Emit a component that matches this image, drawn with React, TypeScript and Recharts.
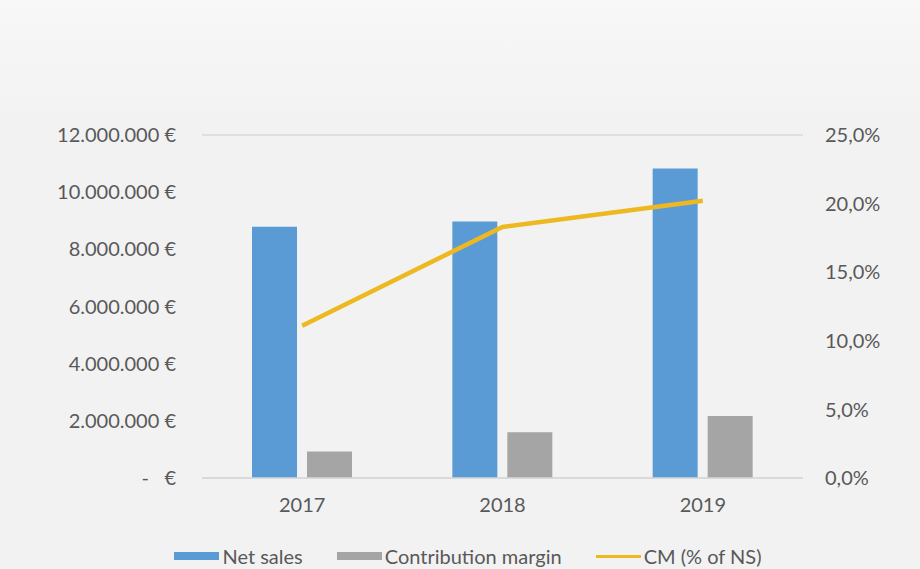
import { ComposedChart, Bar, Line, XAxis, YAxis, CartesianGrid, Legend } from 'recharts';

const years = ['2017', '2018', '2019'];
const netSales = [8790000, 8970000, 10830000];
const contributionMargin = [930000, 1600000, 2170000];
const cmPercent = [0.111, 0.183, 0.202];

const leftTicks = [0, 2000000, 4000000, 6000000, 8000000, 10000000, 12000000];
const rightTicks = [0, 0.05, 0.1, 0.15, 0.2, 0.25];
const seriesNames = ['Net sales', 'Contribution margin', 'CM (% of NS)'];

const data = years.map((year, i) => ({
  year,
  netSales: netSales[i],
  cm: contributionMargin[i],
  cmPct: cmPercent[i],
}));

const BLUE = '#5B9BD5';
const GRAY = '#A5A5A5';
const GOLD = '#EDB820';
const TEXT = '#595959';
const FONT = 'Lato, "Open Sans", sans-serif';

const euro = (v: number) =>
  v === 0 ? '-\u00a0\u00a0\u00a0€' : `${v.toLocaleString('de-DE')} €`;
const pct = (v: number) => `${(v * 100).toFixed(1).replace('.', ',')}%`;

function LegendContent({ payload }: any) {
  const items = [...(payload || [])].sort(
    (a: any, b: any) => seriesNames.indexOf(a.value) - seriesNames.indexOf(b.value)
  );
  return (
    <div
      style={{
        display: 'flex',
        justifyContent: 'center',
        alignItems: 'center',
        height: 24,
        fontFamily: FONT,
        fontSize: 20,
        color: TEXT,
        gap: 34,
        paddingLeft: 16,
      }}
    >
      {items.map((p: any) => (
        <div key={p.value} style={{ display: 'flex', alignItems: 'center', gap: 3 }}>
          <span
            style={{
              display: 'inline-block',
              width: 45,
              height: p.type === 'line' ? 3 : 8,
              background: p.color,
            }}
          />
          <span>{p.value}</span>
        </div>
      ))}
    </div>
  );
}

export default function App() {
  return (
    <div
      style={{
        position: 'absolute',
        left: 0,
        top: 0,
        width: 920,
        height: 569,
        background: 'linear-gradient(#F8F8F8, #F2F2F2 20%, #F2F2F2)',
      }}
    >
      <ComposedChart
        width={920}
        height={569}
        data={data}
        margin={{ top: 135, right: 0, bottom: 1, left: 0 }}
        barGap={10}
        barSize={45}
      >
        <CartesianGrid vertical={false} stroke="#D9D9D9" strokeWidth={1.5} />
        <XAxis
          dataKey="year"
          height={66}
          axisLine={{ stroke: '#D9D9D9', strokeWidth: 1.5 }}
          tickLine={false}
          tickSize={0}
          tickMargin={20}
          tick={{ fill: TEXT, fontSize: 20, fontFamily: FONT }}
        />
        <YAxis
          yAxisId="left"
          width={202}
          domain={[0, 12000000]}
          ticks={leftTicks}
          tickFormatter={euro}
          axisLine={false}
          tickLine={false}
          tickSize={0}
          tickMargin={26}
          tick={{ fill: TEXT, fontSize: 20, fontFamily: FONT }}
        />
        <YAxis
          yAxisId="right"
          orientation="right"
          width={117}
          domain={[0, 0.25]}
          ticks={rightTicks}
          tickFormatter={pct}
          axisLine={false}
          tickLine={false}
          tickSize={0}
          tickMargin={22}
          tick={{ fill: TEXT, fontSize: 20, fontFamily: FONT }}
        />
        <Bar yAxisId="left" dataKey="netSales" name="Net sales" fill={BLUE} isAnimationActive={false} legendType="rect" />
        <Bar yAxisId="left" dataKey="cm" name="Contribution margin" fill={GRAY} isAnimationActive={false} legendType="rect" />
        <Line
          yAxisId="right"
          dataKey="cmPct"
          name="CM (% of NS)"
          stroke={GOLD}
          strokeWidth={4.5}
          dot={false}
          type="linear"
          isAnimationActive={false}
          legendType="line"
        />
        <Legend verticalAlign="bottom" content={<LegendContent />} />
      </ComposedChart>
    </div>
  );
}
